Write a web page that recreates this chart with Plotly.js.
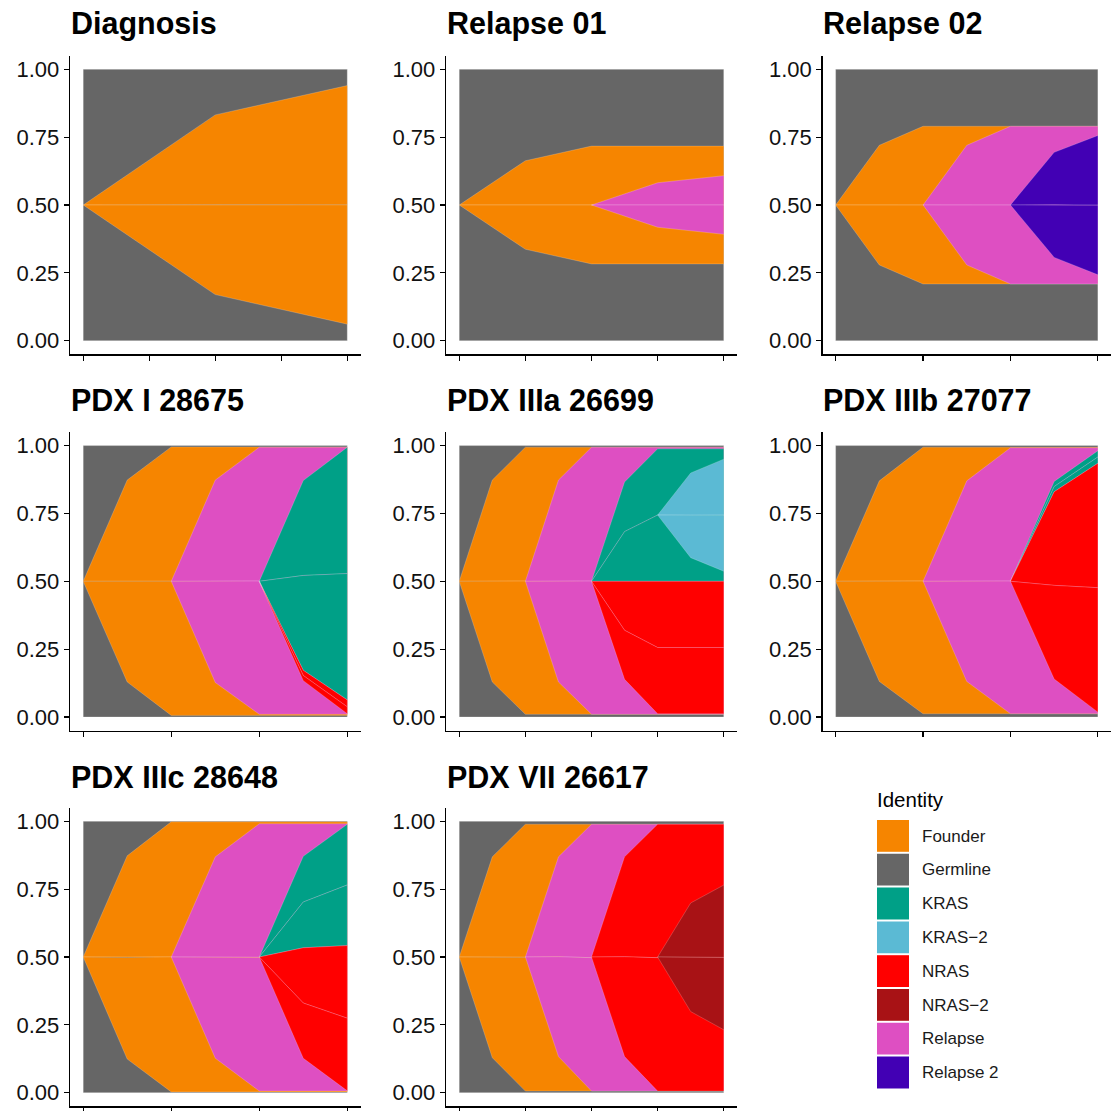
<!DOCTYPE html>
<html>
<head>
<meta charset="utf-8">
<script src="https://cdn.plot.ly/plotly-3.0.1.min.js"></script>
<style>
  html, body { margin: 0; padding: 0; background: #ffffff; }
  #chart { width: 1111px; height: 1111px; }
</style>
</head>
<body>
<div id="chart"></div>
<script>
// ---- Clone identities and their fill colours ----
const identities = ['Founder', 'Germline', 'KRAS', 'KRAS\u22122', 'NRAS', 'NRAS\u22122', 'Relapse', 'Relapse 2'];
const identityColors = ['#F68500', '#666666', '#00A087', '#5BBAD4', '#FF0000', '#A81215', '#DE4FC2', '#4200B4'];

// ---- Diagnosis ----
const diagnosisTime = [0, 1, 2];
const diagnosisFounderX = [0, 1, 2];
const diagnosisFounderTop = [0.5, 0.832, 0.940];
const diagnosisFounderBottom = [0.5, 0.170, 0.061];

// ---- Relapse 01 ----
const relapse01Time = [0, 4];
const relapse01FounderX = [0, 1, 2, 3, 4];
const relapse01FounderTop = [0.5, 0.663, 0.717, 0.717, 0.717];
const relapse01FounderBottom = [0.5, 0.337, 0.283, 0.283, 0.283];
const relapse01RelapseX = [2, 3, 4];
const relapse01RelapseTop = [0.5, 0.582, 0.608];
const relapse01RelapseBottom = [0.5, 0.418, 0.392];

// ---- Relapse 02 ----
const relapse02Time = [0, 6];
const relapse02FounderX = [0, 1, 2, 3, 4, 5, 6];
const relapse02FounderTop = [0.5, 0.720, 0.790, 0.790, 0.790, 0.790, 0.790];
const relapse02FounderBottom = [0.5, 0.279, 0.209, 0.209, 0.209, 0.209, 0.209];
const relapse02RelapseX = [2, 3, 4, 5, 6];
const relapse02RelapseTop = [0.5, 0.720, 0.790, 0.790, 0.790];
const relapse02RelapseBottom = [0.5, 0.279, 0.209, 0.209, 0.209];
const relapse02Relapse2X = [4, 5, 6];
const relapse02Relapse2Top = [0.5, 0.694, 0.756];
const relapse02Relapse2Bottom = [0.5, 0.307, 0.243];

// ---- PDX I 28675 ----
const pdx1Time = [0, 6];
const pdx1FounderX = [0, 1, 2, 3, 4, 5, 6];
const pdx1FounderTop = [0.5, 0.873, 0.995, 0.995, 0.995, 0.995, 0.995];
const pdx1FounderBottom = [0.5, 0.129, 0.006, 0.006, 0.006, 0.006, 0.006];
const pdx1RelapseX = [2, 3, 4, 5, 6];
const pdx1RelapseTop = [0.5, 0.873, 0.994, 0.994, 0.994];
const pdx1RelapseBottom = [0.5, 0.127, 0.010, 0.010, 0.010];
const pdx1KrasX = [4, 5, 6];
const pdx1KrasTop = [0.5, 0.871, 0.994];
const pdx1KrasBottom = [0.5, 0.172, 0.063];
const pdx1NrasX = [4, 5, 6];
const pdx1NrasTop = [0.5, 0.172, 0.063];
const pdx1NrasBottom = [0.5, 0.134, 0.012];

// ---- PDX IIIa 26699 ----
const pdx3aTime = [0, 8];
const pdx3aFounderX = [0, 1, 2, 3, 4, 5, 6, 7, 8];
const pdx3aFounderTop = [0.5, 0.873, 0.994, 0.994, 0.994, 0.994, 0.994, 0.994, 0.994];
const pdx3aFounderBottom = [0.5, 0.129, 0.010, 0.010, 0.010, 0.010, 0.010, 0.010, 0.010];
const pdx3aRelapseX = [2, 3, 4, 5, 6, 7, 8];
const pdx3aRelapseTop = [0.5, 0.873, 0.994, 0.994, 0.994, 0.994, 0.994];
const pdx3aRelapseBottom = [0.5, 0.129, 0.010, 0.010, 0.010, 0.010, 0.010];
const pdx3aKrasX = [4, 5, 6, 7, 8];
const pdx3aKrasTop = [0.5, 0.866, 0.988, 0.988, 0.988];
const pdx3aKrasBottom = [0.5, 0.5, 0.5, 0.5, 0.5];
const pdx3aKras2X = [6, 7, 8];
const pdx3aKras2Top = [0.744, 0.899, 0.950];
const pdx3aKras2Bottom = [0.744, 0.587, 0.537];
const pdx3aNrasX = [4, 5, 6, 7, 8];
const pdx3aNrasTop = [0.5, 0.5, 0.5, 0.5, 0.5];
const pdx3aNrasBottom = [0.5, 0.139, 0.012, 0.012, 0.012];

// ---- PDX IIIb 27077 ----
const pdx3bTime = [0, 6];
const pdx3bFounderX = [0, 1, 2, 3, 4, 5, 6];
const pdx3bFounderTop = [0.5, 0.870, 0.994, 0.994, 0.994, 0.994, 0.994];
const pdx3bFounderBottom = [0.5, 0.131, 0.012, 0.012, 0.012, 0.012, 0.012];
const pdx3bRelapseX = [2, 3, 4, 5, 6];
const pdx3bRelapseTop = [0.5, 0.870, 0.992, 0.992, 0.992];
const pdx3bRelapseBottom = [0.5, 0.131, 0.012, 0.012, 0.012];
const pdx3bKrasX = [4, 5, 6];
const pdx3bKrasTop = [0.5, 0.868, 0.981];
const pdx3bKrasBottom = [0.5, 0.830, 0.935];
const pdx3bNrasX = [4, 5, 6];
const pdx3bNrasTop = [0.5, 0.830, 0.935];
const pdx3bNrasBottom = [0.5, 0.140, 0.018];

// ---- PDX IIIc 28648 ----
const pdx3cTime = [0, 6];
const pdx3cFounderX = [0, 1, 2, 3, 4, 5, 6];
const pdx3cFounderTop = [0.5, 0.873, 0.998, 0.998, 0.998, 0.998, 0.998];
const pdx3cFounderBottom = [0.5, 0.124, 0.003, 0.003, 0.003, 0.003, 0.003];
const pdx3cRelapseX = [2, 3, 4, 5, 6];
const pdx3cRelapseTop = [0.5, 0.869, 0.991, 0.991, 0.991];
const pdx3cRelapseBottom = [0.5, 0.127, 0.006, 0.006, 0.006];
const pdx3cKrasX = [4, 5, 6];
const pdx3cKrasTop = [0.5, 0.871, 0.989];
const pdx3cKrasBottom = [0.5, 0.534, 0.542];
const pdx3cNrasX = [4, 5, 6];
const pdx3cNrasTop = [0.5, 0.534, 0.542];
const pdx3cNrasBottom = [0.5, 0.127, 0.007];

// ---- PDX VII 26617 ----
const pdx7Time = [0, 8];
const pdx7FounderX = [0, 1, 2, 3, 4, 5, 6, 7, 8];
const pdx7FounderTop = [0.5, 0.869, 0.989, 0.989, 0.989, 0.989, 0.989, 0.989, 0.989];
const pdx7FounderBottom = [0.5, 0.129, 0.006, 0.006, 0.006, 0.006, 0.006, 0.006, 0.006];
const pdx7RelapseX = [2, 3, 4, 5, 6, 7, 8];
const pdx7RelapseTop = [0.5, 0.869, 0.989, 0.989, 0.989, 0.989, 0.989];
const pdx7RelapseBottom = [0.5, 0.133, 0.006, 0.006, 0.006, 0.006, 0.006];
const pdx7NrasX = [4, 5, 6, 7, 8];
const pdx7NrasTop = [0.5, 0.869, 0.989, 0.989, 0.989];
const pdx7NrasBottom = [0.5, 0.133, 0.006, 0.006, 0.006];
const pdx7Nras2X = [6, 7, 8];
const pdx7Nras2Top = [0.5, 0.699, 0.765];
const pdx7Nras2Bottom = [0.5, 0.299, 0.232];

// y-axis ticks shared by every panel
const yTickValues = [0, 0.25, 0.5, 0.75, 1];
const yTickLabels = ['0.00', '0.25', '0.50', '0.75', '1.00'];

// ---- Panel table: title, time span, tick step, clones drawn bottom-up ----
const panels = [
  { title: 'Diagnosis', time: diagnosisTime, dtick: 0.5, clones: [
    ['Founder', diagnosisFounderX, diagnosisFounderTop, diagnosisFounderBottom]] },
  { title: 'Relapse 01', time: relapse01Time, dtick: 1, clones: [
    ['Founder', relapse01FounderX, relapse01FounderTop, relapse01FounderBottom],
    ['Relapse', relapse01RelapseX, relapse01RelapseTop, relapse01RelapseBottom]] },
  { title: 'Relapse 02', time: relapse02Time, dtick: 2, clones: [
    ['Founder', relapse02FounderX, relapse02FounderTop, relapse02FounderBottom],
    ['Relapse', relapse02RelapseX, relapse02RelapseTop, relapse02RelapseBottom],
    ['Relapse 2', relapse02Relapse2X, relapse02Relapse2Top, relapse02Relapse2Bottom]] },
  { title: 'PDX I 28675', time: pdx1Time, dtick: 2, clones: [
    ['Founder', pdx1FounderX, pdx1FounderTop, pdx1FounderBottom],
    ['Relapse', pdx1RelapseX, pdx1RelapseTop, pdx1RelapseBottom],
    ['KRAS', pdx1KrasX, pdx1KrasTop, pdx1KrasBottom],
    ['NRAS', pdx1NrasX, pdx1NrasTop, pdx1NrasBottom]] },
  { title: 'PDX IIIa 26699', time: pdx3aTime, dtick: 2, clones: [
    ['Founder', pdx3aFounderX, pdx3aFounderTop, pdx3aFounderBottom],
    ['Relapse', pdx3aRelapseX, pdx3aRelapseTop, pdx3aRelapseBottom],
    ['KRAS', pdx3aKrasX, pdx3aKrasTop, pdx3aKrasBottom],
    ['KRAS\u22122', pdx3aKras2X, pdx3aKras2Top, pdx3aKras2Bottom],
    ['NRAS', pdx3aNrasX, pdx3aNrasTop, pdx3aNrasBottom]] },
  { title: 'PDX IIIb 27077', time: pdx3bTime, dtick: 2, clones: [
    ['Founder', pdx3bFounderX, pdx3bFounderTop, pdx3bFounderBottom],
    ['Relapse', pdx3bRelapseX, pdx3bRelapseTop, pdx3bRelapseBottom],
    ['KRAS', pdx3bKrasX, pdx3bKrasTop, pdx3bKrasBottom],
    ['NRAS', pdx3bNrasX, pdx3bNrasTop, pdx3bNrasBottom]] },
  { title: 'PDX IIIc 28648', time: pdx3cTime, dtick: 2, clones: [
    ['Founder', pdx3cFounderX, pdx3cFounderTop, pdx3cFounderBottom],
    ['Relapse', pdx3cRelapseX, pdx3cRelapseTop, pdx3cRelapseBottom],
    ['KRAS', pdx3cKrasX, pdx3cKrasTop, pdx3cKrasBottom],
    ['NRAS', pdx3cNrasX, pdx3cNrasTop, pdx3cNrasBottom]] },
  { title: 'PDX VII 26617', time: pdx7Time, dtick: 2, clones: [
    ['Founder', pdx7FounderX, pdx7FounderTop, pdx7FounderBottom],
    ['Relapse', pdx7RelapseX, pdx7RelapseTop, pdx7RelapseBottom],
    ['NRAS', pdx7NrasX, pdx7NrasTop, pdx7NrasBottom],
    ['NRAS\u22122', pdx7Nras2X, pdx7Nras2Top, pdx7Nras2Bottom]] }
];

// ---- Grid geometry (pixels on the 1111 px page) ----
const W = 1111, H = 1111;
const colSpans = [[70, 360.5], [446, 737], [822.5, 1111]];
const rowSpans = [[55.7, 354.3], [432, 730.6], [807.7, 1106.3]];
const titleY = [24, 400.5, 777];
const titleX = [68.5, 445, 821];
const FONT = 'Liberation Sans, Arial, Helvetica, sans-serif';

const colorOf = id => identityColors[identities.indexOf(id)];
const seam = { color: 'rgba(255,255,255,0.32)', width: 0.6 };

const traces = [];
const layout = {
  width: W, height: H,
  margin: { l: 0, r: 0, t: 0, b: 0 },
  paper_bgcolor: '#ffffff', plot_bgcolor: 'rgba(0,0,0,0)',
  showlegend: false,
  font: { family: FONT, color: '#000000' },
  annotations: [], shapes: []
};

panels.forEach((p, i) => {
  const r = Math.floor(i / 3), c = i % 3;
  const sfx = i === 0 ? '' : String(i + 1);
  const xa = 'x' + sfx, ya = 'y' + sfx;
  const t0 = p.time[0], t1 = p.time[p.time.length - 1];
  const pad = (t1 - t0) * 0.05;

  layout['xaxis' + sfx] = {
    domain: [colSpans[c][0] / W, colSpans[c][1] / W],
    range: [t0 - pad, t1 + pad], anchor: ya,
    showgrid: false, zeroline: false, showline: true,
    linecolor: '#000000', linewidth: 1.3,
    ticks: 'outside', ticklen: 5, tickwidth: 1.2, tickcolor: '#000000',
    tickmode: 'linear', tick0: t0, dtick: p.dtick,
    showticklabels: false, fixedrange: true
  };
  layout['yaxis' + sfx] = {
    domain: [1 - rowSpans[r][1] / H, 1 - rowSpans[r][0] / H],
    range: [-0.05, 1.05], anchor: xa,
    showgrid: false, zeroline: false, showline: true,
    linecolor: '#000000', linewidth: 1.3,
    ticks: 'outside', ticklen: 5, tickwidth: 1.2, tickcolor: '#000000',
    tickmode: 'array', tickvals: yTickValues, ticktext: yTickLabels,
    tickfont: { family: FONT, size: 22, color: '#111111' },
    fixedrange: true
  };

  // Germline background band
  traces.push({
    type: 'scatter', mode: 'lines', xaxis: xa, yaxis: ya,
    x: [t0, t1, t1, t0, t0], y: [0, 0, 1, 1, 0],
    fill: 'toself', fillcolor: colorOf('Germline'),
    line: { color: 'rgba(255,255,255,0.35)', width: 0.8 },
    hoverinfo: 'skip'
  });

  // Each clone drawn as an upper and a lower half around its midline
  p.clones.forEach(([id, xs, top, bottom]) => {
    const mid = top.map((v, k) => (v + bottom[k]) / 2);
    const rx = xs.slice().reverse();
    const col = colorOf(id);
    traces.push({
      type: 'scatter', mode: 'lines', xaxis: xa, yaxis: ya, name: id,
      x: xs.concat(rx), y: top.concat(mid.slice().reverse()),
      fill: 'toself', fillcolor: col, line: seam, hoverinfo: 'skip'
    });
    traces.push({
      type: 'scatter', mode: 'lines', xaxis: xa, yaxis: ya, name: id,
      x: xs.concat(rx), y: mid.concat(bottom.slice().reverse()),
      fill: 'toself', fillcolor: col, line: seam, hoverinfo: 'skip'
    });
  });

  layout.annotations.push({
    xref: 'paper', yref: 'paper',
    x: titleX[c] / W, y: 1 - titleY[r] / H,
    xanchor: 'left', yanchor: 'middle', showarrow: false,
    text: '<b>' + p.title + '</b>',
    font: { family: FONT, size: 30.5, color: '#000000' }
  });
});

// ---- Legend: Identity ----
layout.annotations.push({
  xref: 'paper', yref: 'paper', x: 874.5 / W, y: 1 - 799 / H,
  xanchor: 'left', yanchor: 'middle', showarrow: false,
  text: 'Identity', font: { family: FONT, size: 20.5, color: '#000000' }
});
identities.forEach((id, k) => {
  const top = 820 + 33.8 * k;
  layout.shapes.push({
    type: 'rect', xref: 'paper', yref: 'paper',
    x0: 877 / W, x1: 909 / W, y0: 1 - (top + 31.8) / H, y1: 1 - top / H,
    fillcolor: identityColors[k], line: { width: 0 }
  });
  layout.annotations.push({
    xref: 'paper', yref: 'paper', x: 919.5 / W, y: 1 - (top + 16) / H,
    xanchor: 'left', yanchor: 'middle', showarrow: false,
    text: id, font: { family: FONT, size: 17, color: '#1a1a1a' }
  });
});

Plotly.newPlot('chart', traces, layout, { staticPlot: true, displayModeBar: false });
</script>
</body>
</html>
